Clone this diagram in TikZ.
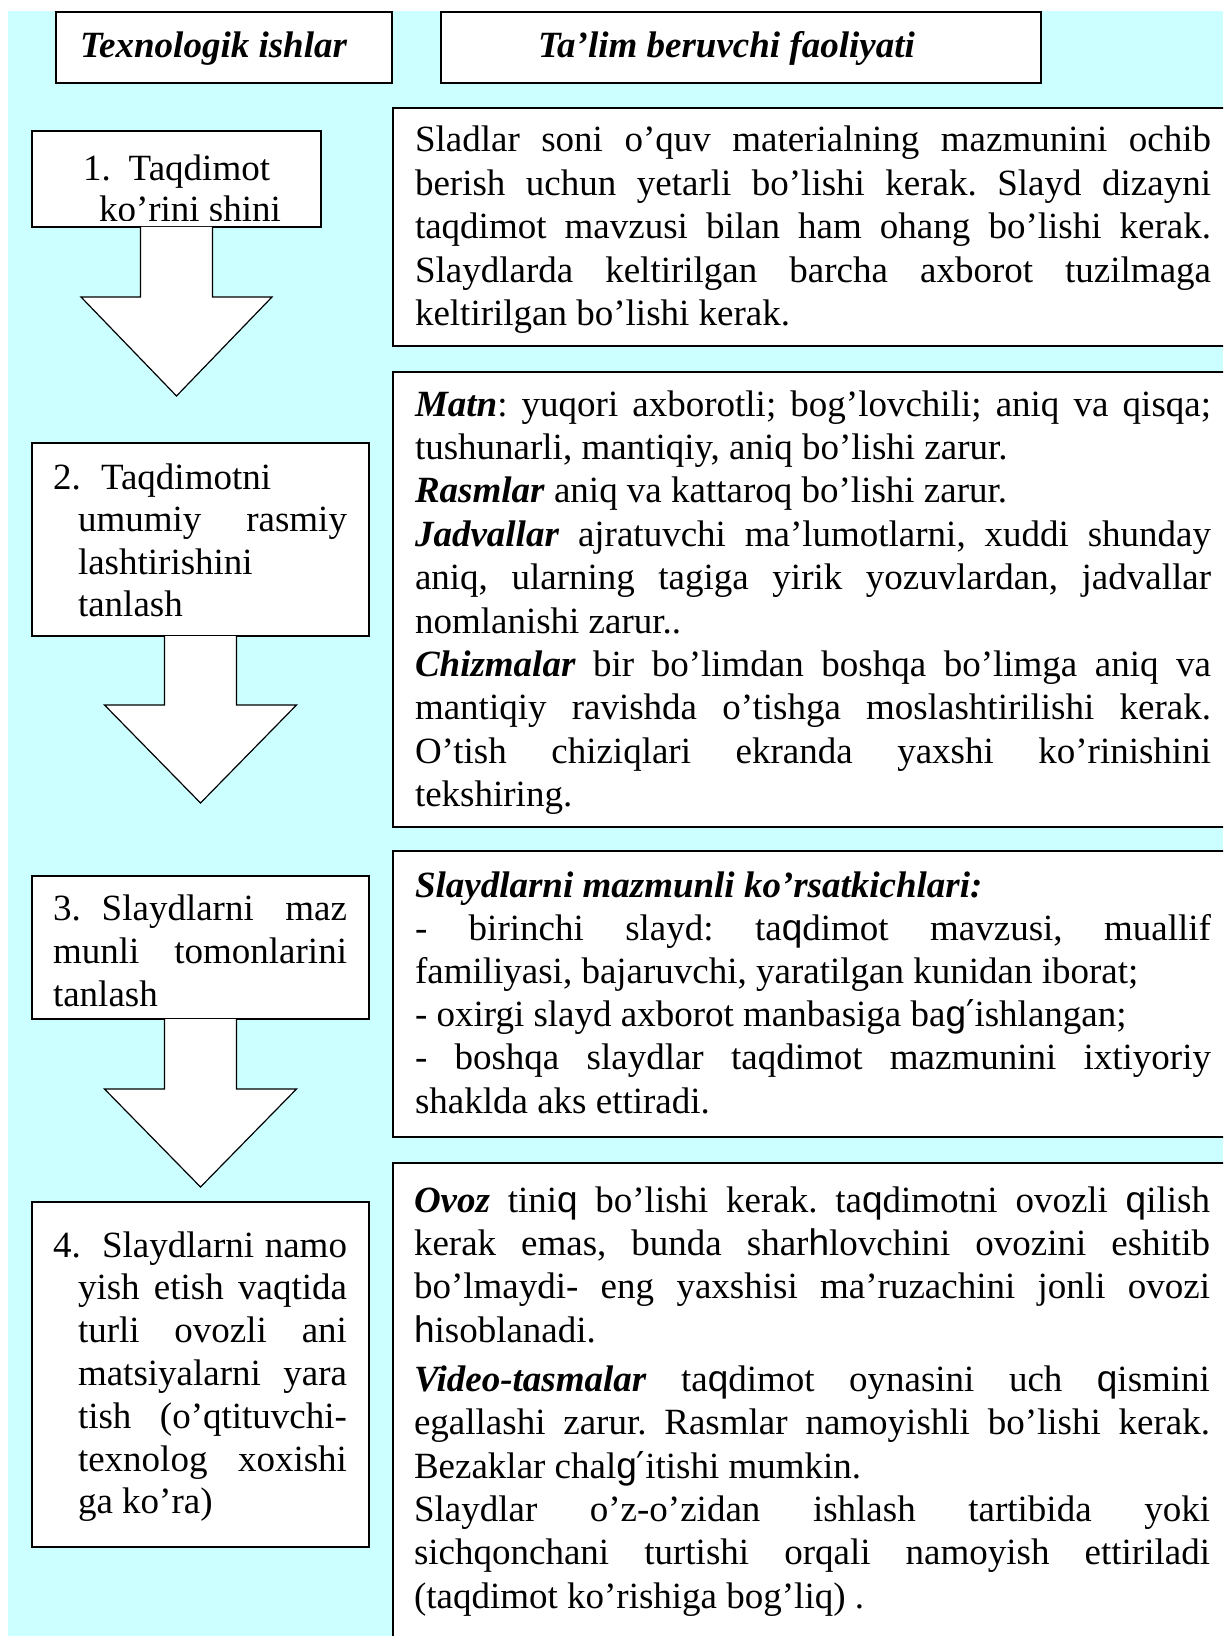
\documentclass[tikz,border=0pt]{standalone}
\usepackage{fontspec}
\setmainfont{Liberation Serif}
\newfontfamily\uzsans{Liberation Sans}
\newfontfamily\uzdv{DejaVu Sans}
\newcommand\uq{{\uzsans q}}
\newcommand\uh{{\uzsans h}}
\newcommand\ug{{\uzsans g}{\uzdv ′}}
\newcommand\bi[1]{\textbf{\textit{#1}}}
\tolerance=10000
\hbadness=10000
\frenchspacing
\usetikzlibrary{calc}
\definecolor{bgcyan}{RGB}{204,255,255}
\tikzset{
  box/.style={draw=black, line width=0.7pt, fill=white, inner sep=0pt, outer sep=0pt},
  blockarrow/.style={draw=black, line width=0.6pt, fill=white, line join=miter},
  txt/.style={inner sep=0pt, outer sep=0pt, anchor=base west,
    font=\fontsize{18.5pt}{21.7pt}\selectfont},
  para/.style={txt, text width=#1, align=justify},
  fs/.style={font=\fontsize{18.5pt}{#1}\selectfont}
}
\begin{document}
\begin{tikzpicture}[x=0.5pt,y=-0.5pt]
\useasboundingbox (0,0) rectangle (1223,1636);
\clip (0,0) rectangle (1223,1636);
\fill[white] (0,0) rectangle (1223,1636);
\fill[bgcyan] (8,11) rectangle (1223,1636);

% header boxes
\node[box, minimum width=168pt, minimum height=35.5pt] (h1) at (224,47.5) {};
\node[box, minimum width=300pt, minimum height=35.5pt] (h2) at (741,47.5) {};
\node[txt, font=\fontsize{18.5pt}{21.7pt}\selectfont\bfseries\itshape] (h1t) at (80,58) {Texnologik ishlar};
\node[txt, font=\fontsize{18.5pt}{21.7pt}\selectfont\bfseries\itshape] (h2t) at (538,58) {Ta’lim beruvchi faoliyati};

% right boxes
\node[box, minimum width=423.5pt, minimum height=119pt] (rA) at (816.5,227) {};
\node[box, minimum width=423.5pt, minimum height=227.5pt] (rB) at (816.5,599.5) {};
\node[box, minimum width=423.5pt, minimum height=143pt] (rC) at (816.5,994) {};
\node[box, minimum width=423.5pt, minimum height=258.5pt] (rD) at (816.5,1421.5) {};

% left boxes
\node[box, minimum width=144.5pt, minimum height=48pt] (b1) at (176.5,179) {};
\node[box, minimum width=168.5pt, minimum height=96.5pt] (b2) at (200.5,539.5) {};
\node[box, minimum width=168.5pt, minimum height=71.5pt] (b3) at (200.5,947.5) {};
\node[box, minimum width=168.5pt, minimum height=172.5pt] (b4) at (200.5,1374.5) {};

% block arrows
\filldraw[blockarrow] ($(b1.south)+(-36,0)$) -- ++(0,70) -- ++(-59.5,0)
  -- ($(b1.south)+(0,169)$) -- ($(b1.south)+(95.5,70)$) -- ++(-59.5,0)
  -- ($(b1.south)+(36,0)$);
\filldraw[blockarrow] ($(b2.south)+(-36,0)$) -- ++(0,69) -- ++(-60,0)
  -- ($(b2.south)+(0,167)$) -- ($(b2.south)+(96,69)$) -- ++(-60,0)
  -- ($(b2.south)+(36,0)$);
\filldraw[blockarrow] ($(b3.south)+(-36,0)$) -- ++(0,70) -- ++(-60,0)
  -- ($(b3.south)+(0,168)$) -- ($(b3.south)+(96,70)$) -- ++(-60,0)
  -- ($(b3.south)+(36,0)$);

% left texts
\node[txt] (b1a) at (83,181) {1.\hspace*{9pt}Taqdimot};
\begin{scope}
\clip (33,132) rectangle (320,220.5);
\node[txt] (b1b) at (99,222) {ko’rini shini};
\end{scope}

\node[txt] (b2n) at (53,489) {2.};
\node[para=134.5pt, fs=21.3pt] (b2t) at (78,489)
  {\hspace*{11.5pt}Taqdimotni\par umumiy rasmiy\linebreak lashtirishini\par tanlash};

\node[para=147pt, fs=21.5pt] (b3t) at (53,920)
  {3.\hspace*{10.5pt}Slaydlarni maz\linebreak munli tomonlarini\linebreak tanlash};

\node[txt] (b4n) at (53,1257) {4.};
\node[para=134.5pt, fs=21.4pt] (b4t) at (78,1257)
  {\hspace*{12pt}Slaydlarni namo\linebreak yish etish vaqtida\linebreak turli ovozli ani\linebreak matsiyalarni yara\linebreak tish (o’qtituvchi-\linebreak texnolog xoxishi\linebreak ga ko’ra)};

% right texts
\node[para=398pt, fs=21.75pt] (tA) at (415,152)
  {Sladlar soni o’quv materialning mazmunini ochib\linebreak berish uchun yetarli bo’lishi kerak. Slayd dizayni\linebreak taqdimot mavzusi bilan ham ohang bo’lishi kerak.\linebreak Slaydlarda keltirilgan barcha axborot tuzilmaga\linebreak keltirilgan bo’lishi kerak.};

\node[para=398pt, fs=21.7pt] (tB) at (415,416)
  {\bi{Matn}: yuqori axborotli; bog’lovchili; aniq va qisqa;\linebreak tushunarli, mantiqiy, aniq bo’lishi zarur.\par
   \bi{Rasmlar} aniq va kattaroq bo’lishi zarur.\par
   \bi{Jadvallar} ajratuvchi ma’lumotlarni, xuddi shunday\linebreak aniq, ularning tagiga yirik yozuvlardan, jadvallar\linebreak nomlanishi zarur..\par
   \bi{Chizmalar} bir bo’limdan boshqa bo’limga aniq va\linebreak mantiqiy ravishda o’tishga moslashtirilishi kerak.\linebreak O’tish chiziqlari ekranda yaxshi ko’rinishini\linebreak tekshiring.};

\node[para=398pt, fs=21.6pt] (tC) at (415,897)
  {\bi{Slaydlarni mazmunli ko’rsatkichlari:}\par
   - birinchi slayd: ta\uq dimot mavzusi, muallif\linebreak familiyasi, bajaruvchi, yaratilgan kunidan iborat;\par
   - oxirgi slayd axborot manbasiga ba\ug ishlangan;\par
   - boshqa slaydlar taqdimot mazmunini ixtiyoriy\linebreak shaklda aks ettiradi.};

\node[para=398pt, fs=21.7pt] (tD) at (414,1212)
  {\bi{Ovoz} tini\uq{} bo’lishi kerak. ta\uq dimotni ovozli \uq ilish\linebreak kerak emas, bunda shar\uh lovchini ovozini eshitib\linebreak bo’lmaydi- eng yaxshisi ma’ruzachini jonli ovozi\linebreak \uh isoblanadi.\par
   \vspace{2.8pt}\bi{Video-tasmalar} ta\uq dimot oynasini uch \uq ismini\linebreak egallashi zarur. Rasmlar namoyishli bo’lishi kerak.\linebreak Bezaklar chal\ug itishi mumkin.\par
   Slaydlar o’z-o’zidan ishlash tartibida yoki\linebreak sichqonchani turtishi orqali namoyish ettiriladi\linebreak (taqdimot ko’rishiga bog’liq) .};
\end{tikzpicture}
\end{document}
